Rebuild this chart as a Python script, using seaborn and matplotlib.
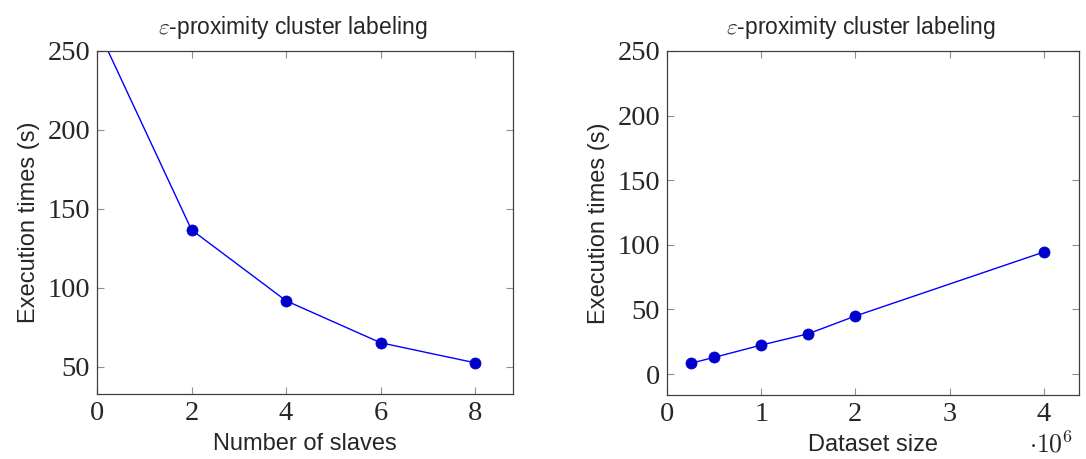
import matplotlib
matplotlib.use("Agg")
import matplotlib.pyplot as plt
import seaborn as sns
import pandas as pd

# Execution times versus number of slaves
slaves = [0, 2, 4, 6, 8]
times_slaves = [265.0, 136.7, 91.8, 65.2, 52.5]

# Execution times versus dataset size (in millions of points)
dataset_size = [0.25, 0.5, 1.0, 1.5, 2.0, 4.0]
times_size = [8.3, 12.9, 22.4, 31.2, 44.9, 94.4]

title_text = r"$\varepsilon$-proximity cluster labeling"
ylabel_text = "Execution times (s)"

sns.set_theme(style="white")
plt.rcParams["font.family"] = ["Liberation Sans", "DejaVu Sans"]
plt.rcParams["mathtext.fontset"] = "cm"

line_color = "#0000FF"
mark_color = "#0000CC"
frame_color = "#404040"
tick_color = "#909090"

fig = plt.figure(figsize=(10.86, 4.59), dpi=100)
W, H = 1086, 459
ax1 = fig.add_axes([97 / W, 1 - 394 / H, (513 - 97) / W, (394 - 51) / H])
ax2 = fig.add_axes([667 / W, 1 - 395 / H, (1079 - 667) / W, (395 - 51) / H])

df1 = pd.DataFrame({"x": slaves, "y": times_slaves})
df2 = pd.DataFrame({"x": dataset_size, "y": times_size})

for ax, df in ((ax1, df1), (ax2, df2)):
    sns.lineplot(data=df, x="x", y="y", ax=ax, color=line_color, linewidth=1.0,
                 marker="o", markersize=8, markerfacecolor=mark_color,
                 markeredgecolor=mark_color, markeredgewidth=0.5)

ax1.set_xlim(0, 8.8)
ax1.set_ylim(32.75, 250)
ax1.set_xticks([0, 2, 4, 6, 8])
ax1.set_yticks([50, 100, 150, 200, 250])
ax1.set_xlabel("Number of slaves")

ax2.set_xlim(0, 4.375)
ax2.set_ylim(-16.2, 250)
ax2.set_xticks([0, 1, 2, 3, 4])
ax2.set_yticks([0, 50, 100, 150, 200, 250])
ax2.set_xlabel("Dataset size")
ax2.text(0.985, -0.105, r"$\cdot 10^{6}$", transform=ax2.transAxes, ha="right",
         va="top", fontsize=18.5, family="Liberation Serif")

for ax in (ax1, ax2):
    ax.set_title(title_text, fontsize=16.5, pad=12, x=0.47)
    ax.set_ylabel(ylabel_text, fontsize=17, labelpad=5)
    ax.xaxis.label.set_size(17)
    ax.xaxis.labelpad = 5
    ax.tick_params(direction="in", length=5, width=0.8, color=tick_color,
                   top=True, right=True, bottom=True, left=True,
                   labelsize=20.5, pad=5)
    for lab in ax.get_xticklabels() + ax.get_yticklabels():
        lab.set_family("Liberation Serif")
    for sp in ax.spines.values():
        sp.set_color(frame_color)
        sp.set_linewidth(0.9)
        sp.set_visible(True)

fig.savefig("out.png", dpi=100, facecolor="white")
